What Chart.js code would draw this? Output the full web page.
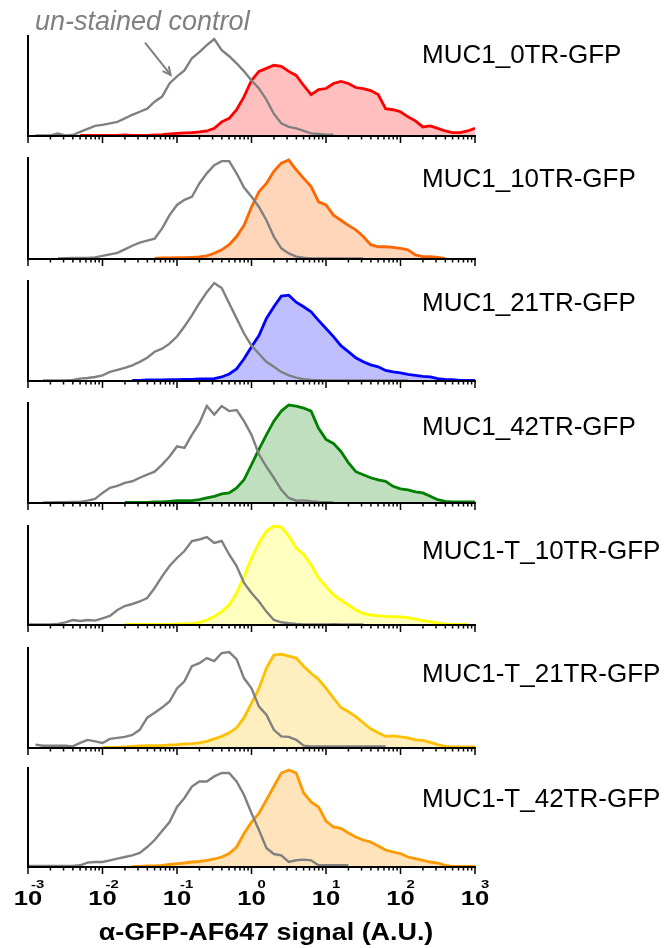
<!DOCTYPE html>
<html><head><meta charset="utf-8">
<script src="https://cdn.jsdelivr.net/npm/chart.js@4.4.1/dist/chart.umd.min.js"></script>
<style>
html,body{margin:0;padding:0;background:#fff;}
#wrap{position:relative;width:670px;height:948px;overflow:hidden;background:#fff;}
#wrap canvas{position:absolute;left:0;top:0;}
</style></head><body><div id="wrap"></div>
<script>
// ---- DATA ----
const binLog10 = [-3.0,-2.9,-2.8,-2.7,-2.6,-2.5,-2.4,-2.3,-2.2,-2.1,-2.0,-1.9,-1.8,-1.7,-1.6,-1.5,-1.4,-1.3,-1.2,-1.1,
  -1.0,-0.9,-0.8,-0.7,-0.6,-0.5,-0.4,-0.3,-0.2,-0.1,0.0,0.1,0.2,0.3,0.4,0.5,0.6,0.7,0.8,0.9,
  1.0,1.1,1.2,1.3,1.4,1.5,1.6,1.7,1.8,1.9,2.0,2.1,2.2,2.3,2.4,2.5,2.6,2.7,2.8,2.9,3.0];

const sampleNames = ['MUC1_0TR-GFP','MUC1_10TR-GFP','MUC1_21TR-GFP','MUC1_42TR-GFP',
  'MUC1-T_10TR-GFP','MUC1-T_21TR-GFP','MUC1-T_42TR-GFP'];
const tickExponents = [-3,-2,-1,0,1,2,3];
const axisTitle = 'α-GFP-AF647 signal (A.U.)';
const controlLabel = 'un-stained control';

// un-stained control histograms (% of panel height)
const control1 = [null,0.5,0.5,0.5,2.5,0.5,1,4,7,10,11,12.5,14,17.5,21,24,27,34,39,52,
  59,65,77,83,90,96,85,79,72,64,55,47,36,22,12.5,9,7.5,5,2.6,2,
  1.3,1.3,null,null,null,null,null,null,null,null,null,null,null,null,null,null,null,null,null,null,null];
const control2 = [null,null,null,null,0.5,0.7,1,1,1,1.6,3,4.6,6,9.5,13,16,18,20,30,43,
  53,58,61,74,84,92,96,96,84,70,61,51,38,22,10.5,5.5,2.3,1.3,0.5,0.5,
  0.5,0.5,0.5,0.5,0.5,0.5,null,null,null,null,null,null,null,null,null,null,null,null,null,null,null];
const control3 = [null,null,0.5,0.5,0.5,0.5,1,2.3,3,4,5.6,9,11,13,15.5,19,23,29,32,37,
  44,54,65,77,88,97,92,77,62,47,35,27,19,14,9,5.6,3.3,1.7,1,0.7,
  0.5,0.5,0.5,0.5,0.5,0.5,0.5,0.5,0.5,0.5,0.5,0.5,null,null,null,null,null,null,null,null,null];
const control4 = [null,null,0.5,0.5,0.7,0.7,1,1,2.3,4,10,15,17,20,21.5,25,28,31,38,46,
  56,54.5,67.5,79,96,87.5,96,91,92,81,67.5,48,36,25,13,5,2.3,2.6,1.7,1,
  0.7,0.5,null,null,null,null,null,null,null,null,null,null,null,null,null,null,null,null,null,null,null];
const control5 = [0.5,0.5,0.5,0.5,1,2.7,5,4,5,4.4,6.7,9,15,19,21,23.5,27,37,48.7,59,
  67,74,84,85.5,88,82,84,70.5,59,42,32,23.5,13.4,5,2.7,1.7,1,0.5,0.5,0.5,
  0.5,0.7,0.5,0.5,0.5,0.5,null,null,null,null,null,null,null,null,null,null,null,null,null,null,null];
const control6 = [null,3.3,2.3,2.3,2.3,2.3,1.6,5,8,6.6,5,9,10,11,13,18,30,35,40,46,
  59,66,81,84,89,86,94,95,88,69,59,41,33,18,11.5,11,8,2.3,1.6,1.6,
  1.6,1.6,1.6,1.6,1.6,1.6,1.6,1.6,1.6,null,null,null,null,null,null,null,null,null,null,null,null];
const control7 = [1,1,1,1,1,1,1,1.7,4.4,5,5,6.7,8.4,10,11.7,14,20,27,36,45,
  60,69,80.5,85.5,85.5,90.6,94,94,85.5,72,53.7,37,19,13,11.7,5,6.7,7.4,6.7,1.7,
  1.7,1.7,1.7,1.7,null,null,null,null,null,null,null,null,null,null,null,null,null,null,null,null,null];

// alpha-GFP stained histograms (% of panel height)
const stained1 = [null,null,null,null,null,null,null,0.5,0.5,0.5,0.5,0.5,0.5,1,0.5,0.5,0.7,1,1.3,2,
  2.6,3,3.3,4,5,7.6,14,17.5,26,39,55,64,67,70,69,64,60,50,41,46,
  47,52,54,52,48,47,45,41,27,26,24,19,15,9,10,7.6,5,3.3,3.3,5,7.6];
const stained2 = [null,null,null,null,null,null,null,null,null,null,null,null,null,null,null,null,null,0.5,1,1,
  1.3,1.3,1.6,2,3,5.6,9,14,22,33,51,66,74,86,94,97,87.5,79,71,56,
  53,43,38,33,28.5,22,14,12,12,11.5,10.5,9,4,2.3,2.3,1.6,0.5,null,null,null,null];
const stained3 = [null,null,null,null,null,null,null,null,null,null,null,null,null,null,0.7,0.7,1,1,1,1.3,
  1.3,1.6,1.6,2,2,2.3,4,7,12,22,34,45,62,73.5,84,85,78,73.5,68.5,60,
  52,44,35,29,23,19,16,14,10.5,9,8,6.6,5.6,4.6,4,2.3,1.7,1.3,0.7,0.7,0.7];
const stained4 = [null,null,null,null,null,null,null,null,null,null,null,null,null,0.7,0.7,0.7,0.7,1,1,1.6,
  2.3,2.3,2.3,3.3,5,6.6,9,10,15,23,38,53,67.5,81,91,97,96,94,91,74,
  63,59,51,40,31,28,25,23,21.5,16.5,14,13,11,10,6.6,3.3,1.7,1,1,1,1];
const stained5 = [null,null,null,null,null,null,null,null,null,null,null,null,null,0.7,0.7,0.7,0.7,0.7,0.7,0.7,
  1,1.3,1.7,2.7,5,8.4,13.4,20,32,48.7,67,82,94,99,98,89,77,70.5,60,47,
  38.6,30,25,20,15,11.7,10,9.4,8.7,8.4,8,7.4,6,4.4,3.4,2,1,0.5,0.5,0.5,null];
const stained6 = [null,null,null,null,null,null,null,null,null,null,0.5,0.5,0.5,1,1.6,2,2.3,2.3,2.3,3,
  3.3,4,4.3,5,6.6,9,11.5,15,20,30,44.5,59,79,92,93,91,89,81,74,68,
  59,49.5,40,36,31,25,19,15,11.5,12,11,10,8,7.6,5.6,3.3,1.6,1,1,1,1];
const stained7 = [null,null,null,null,null,null,null,null,null,null,null,null,null,null,0.7,0.7,1,1,1.5,2.5,
  3.4,4,5,5.5,6.7,8,10,13.4,20,33.5,45,53.7,67,80.5,94,97,94,74,65,60,
  46,40,38.6,34,30,27,25,21,17,15,13.4,10,8.4,6.7,5,4,1.7,0.7,0.7,0.7,0.7];

const controlSeries = [control1,control2,control3,control4,control5,control6,control7];
const stainedSeries = [stained1,stained2,stained3,stained4,stained5,stained6,stained7];

// ---- STYLE / LAYOUT ----
const lineColors = ['#ff0000','#ff6600','#0000ff','#008000','#ffff00','#ffc000','#ff9900'];
const fillColors = ['rgba(255,0,0,0.25)','rgba(255,102,0,0.27)','rgba(0,0,255,0.25)','rgba(0,128,0,0.25)',
  'rgba(255,255,0,0.25)','rgba(255,192,0,0.25)','rgba(255,153,0,0.27)'];
const controlColor = '#808080';
const panelTops = [35,157,280,402,525,647,767];
const panelBottoms = [136,259,381,503,625,748,867];
const labelCenters = [56,180,304,428,552,675,800];
const W = 670, H = 948, plotLeft = 28, plotRight = 475;
const arrowFrom = {x: 0.0372, y: 92.4};
const arrowTo = {x: 0.0823, y: 60.4};

const wrap = document.getElementById('wrap');
const FONT = '"Liberation Sans", Arial, sans-serif';

function toPoints(arr) {
  return arr.map((v, i) => ({x: Math.pow(10, binLog10[i]), y: v}));
}

function stretchedText(ctx, text, x, y, sx) {
  ctx.save();
  ctx.translate(x, y);
  ctx.scale(sx, 1);
  ctx.fillText(text, 0, 0);
  ctx.restore();
}

function panelPlugin(p) {
  return {
    id: 'panelDeco' + p,
    afterDraw(chart) {
      const ctx = chart.ctx, xs = chart.scales.x, ys = chart.scales.y, ca = chart.chartArea;
      ctx.save();
      // axes lines
      ctx.strokeStyle = '#000';
      ctx.lineWidth = 2;
      ctx.beginPath();
      ctx.moveTo(ca.left, ca.top); ctx.lineTo(ca.left, ca.bottom + 1);
      ctx.moveTo(ca.left - 1, ca.bottom); ctx.lineTo(ca.right + 1, ca.bottom);
      ctx.stroke();
      // log tick marks
      ctx.lineWidth = 1.5;
      tickExponents.forEach(e => {
        for (let m = 1; m <= 9; m++) {
          if (e === tickExponents[tickExponents.length - 1] && m > 1) break;
          const v = m * Math.pow(10, e);
          const px = xs.getPixelForValue(v);
          ctx.beginPath();
          ctx.moveTo(px, ca.bottom);
          ctx.lineTo(px, ca.bottom + (m === 1 ? 7 : 3.5));
          ctx.stroke();
        }
      });
      // sample label
      ctx.fillStyle = '#000';
      ctx.font = '26px ' + FONT;
      ctx.textAlign = 'left';
      ctx.textBaseline = 'middle';
      ctx.fillText(sampleNames[p], 422, labelCenters[p]);

      if (p === 0) {
        // control annotation
        ctx.fillStyle = controlColor;
        ctx.font = 'italic 27px ' + FONT;
        ctx.textBaseline = 'alphabetic';
        ctx.fillText(controlLabel, 35, 30);
        const x1 = xs.getPixelForValue(arrowFrom.x), y1 = ys.getPixelForValue(arrowFrom.y);
        const x2 = xs.getPixelForValue(arrowTo.x), y2 = ys.getPixelForValue(arrowTo.y);
        ctx.strokeStyle = controlColor;
        ctx.lineWidth = 2;
        ctx.beginPath(); ctx.moveTo(x1, y1); ctx.lineTo(x2, y2); ctx.stroke();
        const ang = Math.atan2(y2 - y1, x2 - x1), hl = 9;
        ctx.beginPath();
        ctx.moveTo(x2 - hl * Math.cos(ang - 0.45), y2 - hl * Math.sin(ang - 0.45));
        ctx.lineTo(x2, y2);
        ctx.lineTo(x2 - hl * Math.cos(ang + 0.45), y2 - hl * Math.sin(ang + 0.45));
        ctx.stroke();
      }
      if (p === sampleNames.length - 1) {
        // decade tick labels 10^n
        ctx.fillStyle = '#000';
        tickExponents.forEach(e => {
          const px = xs.getPixelForValue(Math.pow(10, e));
          ctx.font = 'bold 21px ' + FONT;
          ctx.textAlign = 'center';
          ctx.textBaseline = 'alphabetic';
          stretchedText(ctx, '10', px, 905, 1.22);
          ctx.font = 'bold 11px ' + FONT;
          ctx.textAlign = 'left';
          stretchedText(ctx, String(e).replace('-', '-'), px + (e < 0 ? 3 : 6), 888, 1.35);
        });
        ctx.font = 'bold 24px ' + FONT;
        ctx.textAlign = 'center';
        stretchedText(ctx, axisTitle, 266, 940, 1.12);
      }
      ctx.restore();
    }
  };
}

sampleNames.forEach((name, p) => {
  const cv = document.createElement('canvas');
  cv.width = W; cv.height = H;
  cv.style.width = W + 'px'; cv.style.height = H + 'px';
  wrap.appendChild(cv);
  new Chart(cv.getContext('2d'), {
    type: 'line',
    data: {
      datasets: [
        {
          label: 'un-stained control',
          data: toPoints(controlSeries[p]),
          borderColor: controlColor,
          borderWidth: 2.4,
          fill: false,
          pointRadius: 0,
          tension: 0,
          spanGaps: false
        },
        {
          label: name,
          data: toPoints(stainedSeries[p]),
          borderColor: lineColors[p],
          backgroundColor: fillColors[p],
          borderWidth: 2.8,
          fill: 'origin',
          pointRadius: 0,
          tension: 0,
          spanGaps: false
        }
      ]
    },
    options: {
      responsive: false,
      animation: false,
      devicePixelRatio: 1,
      layout: { padding: { left: plotLeft, right: W - plotRight, top: panelTops[p], bottom: H - panelBottoms[p] } },
      plugins: { legend: { display: false }, tooltip: { enabled: false }, title: { display: false } },
      scales: {
        x: {
          type: 'logarithmic', min: 0.001, max: 1000,
          ticks: { display: false }, grid: { display: false, drawTicks: false }, border: { display: false }
        },
        y: {
          type: 'linear', min: 0, max: 100,
          ticks: { display: false }, grid: { display: false, drawTicks: false }, border: { display: false }
        }
      }
    },
    plugins: [panelPlugin(p)]
  });
});
</script>
</body></html>
